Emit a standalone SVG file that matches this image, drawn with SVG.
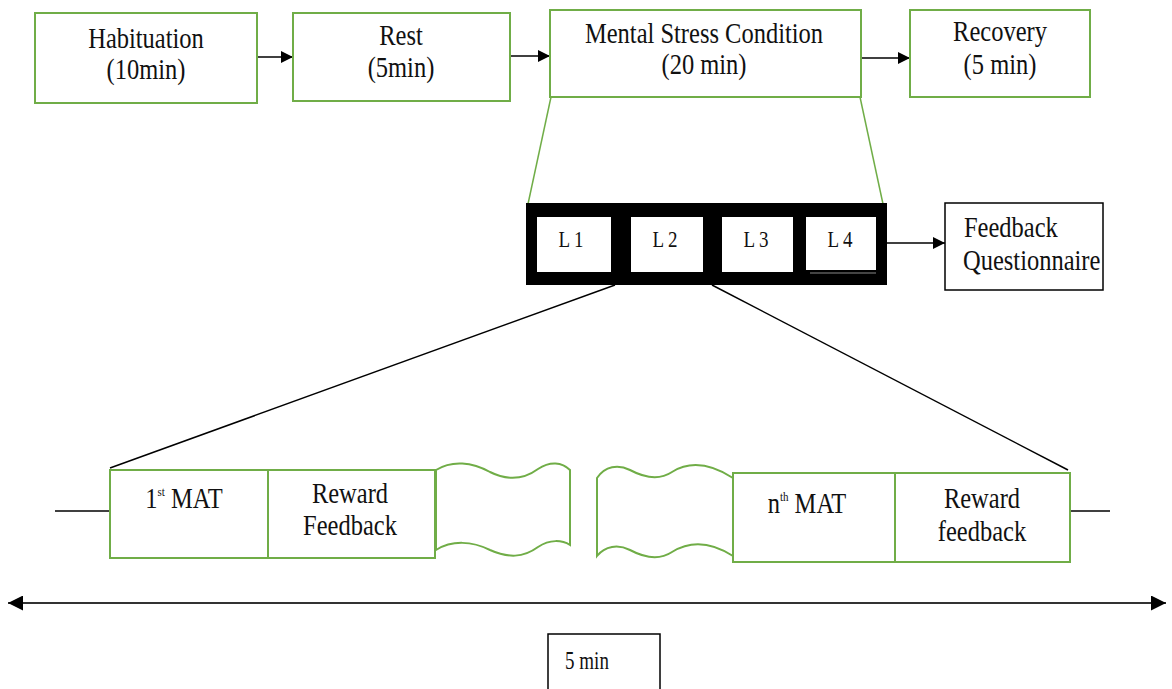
<svg xmlns="http://www.w3.org/2000/svg" width="1172" height="689" viewBox="0 0 1172 689">
<defs>
<style>
.g{fill:#fff;stroke:#70ad47;stroke-width:2}
.k{fill:#fff;stroke:#000;stroke-width:1.5}
.t{font-family:"Liberation Serif","Times New Roman",serif;font-size:24.5px;fill:#111;text-anchor:middle}
.l{text-anchor:start}
.s{font-family:"Liberation Serif","Times New Roman",serif;font-size:19px;fill:#111;text-anchor:middle}
.ln{stroke:#000;stroke-width:1.5;fill:none}
.gl{stroke:#70ad47;stroke-width:1.5;fill:none}
</style>
<marker id="ah" viewBox="0 0 10 10" refX="10" refY="5" markerWidth="12" markerHeight="12" markerUnits="userSpaceOnUse" orient="auto"><path d="M0,0L10,5L0,10z" fill="#000"/></marker>
<marker id="ah2" viewBox="0 0 10 10" refX="10" refY="5" markerWidth="15" markerHeight="15" markerUnits="userSpaceOnUse" orient="auto-start-reverse"><path d="M0,0L10,5L0,10z" fill="#000"/></marker>
</defs>
<rect width="1172" height="689" fill="#fff"/>

<g id="connectors">
<line class="ln" x1="257" y1="57" x2="293" y2="57" marker-end="url(#ah)"/>
<line class="ln" x1="510" y1="56" x2="550" y2="56" marker-end="url(#ah)"/>
<line class="ln" x1="861" y1="58" x2="910" y2="58" marker-end="url(#ah)"/>
<line class="gl" x1="551" y1="97" x2="528" y2="204"/>
<line class="gl" x1="860" y1="97" x2="883" y2="204"/>
<line class="ln" x1="886" y1="243" x2="945" y2="243" marker-end="url(#ah)"/>
<line class="ln" x1="615" y1="285" x2="110" y2="468"/>
<line class="ln" x1="712" y1="285" x2="1068" y2="470"/>
<line class="ln" x1="55" y1="511" x2="110" y2="511"/>
<line class="ln" x1="1070" y1="511" x2="1110" y2="511"/>
<line x1="8" y1="603" x2="1166" y2="603" stroke="#333" stroke-width="2" marker-start="url(#ah2)" marker-end="url(#ah2)"/>
</g>

<g id="habituation">
<rect class="g" x="35" y="13" width="222" height="90"/>
<text class="t" transform="translate(146,48) scale(1,1.2)">Habituation</text>
<text class="t" transform="translate(146,79) scale(1,1.2)">(10min)</text>
</g>
<g id="rest">
<rect class="g" x="293" y="13" width="217" height="88"/>
<text class="t" transform="translate(401,45) scale(1,1.2)">Rest</text>
<text class="t" transform="translate(401,77) scale(1,1.2)">(5min)</text>
</g>
<g id="mental-stress">
<rect class="g" x="550" y="10" width="311" height="87"/>
<text class="t" transform="translate(704,43) scale(1,1.2)">Mental Stress Condition</text>
<text class="t" transform="translate(704,74) scale(1,1.2)">(20 min)</text>
</g>
<g id="recovery">
<rect class="g" x="910" y="10" width="180" height="87"/>
<text class="t" transform="translate(1000,41) scale(1,1.2)">Recovery</text>
<text class="t" transform="translate(1000,74) scale(1,1.2)">(5 min)</text>
</g>

<g id="levels">
<rect x="526" y="203" width="361" height="82" fill="#000"/>
<rect x="537" y="217" width="74" height="55" fill="#fff"/>
<rect x="631" y="217" width="72" height="55" fill="#fff"/>
<rect x="722" y="217" width="71" height="55" fill="#fff"/>
<rect x="806" y="217" width="70" height="53" fill="#fff"/>
<line x1="810" y1="273" x2="876" y2="273" stroke="#888" stroke-width="1"/>
<text class="s" transform="translate(571,247) scale(1,1.2)">L 1</text>
<text class="s" transform="translate(665,247) scale(1,1.2)">L 2</text>
<text class="s" transform="translate(756,247) scale(1,1.2)">L 3</text>
<text class="s" transform="translate(840,247) scale(1,1.2)">L 4</text>
</g>

<g id="feedback-questionnaire">
<rect class="k" x="945" y="203" width="158" height="87"/>
<text class="t l" transform="translate(964,237) scale(1,1.2)">Feedback</text>
<text class="t l" transform="translate(963,270) scale(1,1.2)" font-size="24">Questionnaire</text>
</g>

<g id="first-mat">
<rect class="g" x="110" y="470" width="158" height="88"/>
<text class="t" transform="translate(184,508) scale(1,1.2)"><tspan>1</tspan><tspan font-size="11" dy="-10">st</tspan><tspan dy="10"> MAT</tspan></text>
</g>
<g id="reward-feedback-1">
<rect class="g" x="268" y="470" width="167" height="88"/>
<text class="t" transform="translate(350,503) scale(1,1.2)">Reward</text>
<text class="t" transform="translate(350,535) scale(1,1.2)">Feedback</text>
</g>
<g id="gap-1">
<path class="g" d="M436,470 C452,460 472,462 490,472 C508,481 523,480 538,469 C550,461 562,462 570,470 L570,545 C562,540 550,539 538,547 C523,558 508,558 490,550 C472,541 452,540 436,550 Z"/>
</g>
<g id="gap-2">
<path class="g" d="M597,478 C605,466 618,464 630,470 C645,478 660,480 672,472 C688,462 708,462 733,478 L733,556 C708,540 688,542 672,552 C660,560 645,558 630,550 C618,544 605,546 597,556 Z"/>
</g>
<g id="nth-mat">
<rect class="g" x="733" y="473" width="162" height="89"/>
<text class="t" transform="translate(807,513) scale(1,1.2)"><tspan>n</tspan><tspan font-size="11" dy="-10">th</tspan><tspan dy="10"> MAT</tspan></text>
</g>
<g id="reward-feedback-n">
<rect class="g" x="895" y="473" width="175" height="89"/>
<text class="t" transform="translate(982,508) scale(1,1.2)">Reward</text>
<text class="t" transform="translate(982,541) scale(1,1.2)">feedback</text>
</g>

<g id="five-min">
<rect class="k" x="548" y="634" width="112" height="60"/>
<text class="s" transform="translate(587,669) scale(1,1.3)" font-size="16">5 min</text>
</g>
</svg>
